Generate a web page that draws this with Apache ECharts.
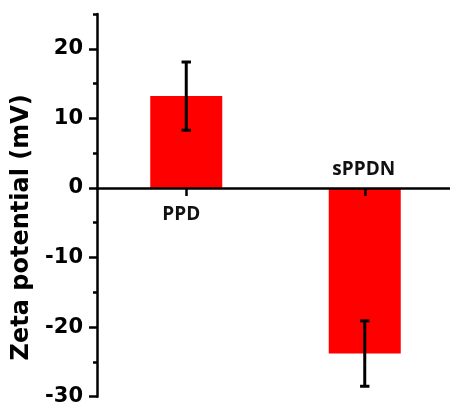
<!DOCTYPE html>
<html>
<head>
<meta charset="utf-8">
<script src="https://cdn.jsdelivr.net/npm/echarts@6/dist/echarts.min.js"></script>
<style>
  html, body { margin: 0; padding: 0; background: #fff; }
  #chart { width: 450px; height: 406px; }
</style>
</head>
<body>
<div id="chart"></div>
<script>
// Zeta potential of the two samples (mean and standard deviation, mV)
const categories = ['PPD', 'sPPDN'];
const zeta = [13.2, -23.8];
const zetaErr = [4.9, 4.7];
const yTickValues = [-30, -20, -10, 0, 10, 20];

const chart = echarts.init(document.getElementById('chart'), null, { renderer: 'canvas' });

const labelFont = {
  fontFamily: 'Open Sans',
  fontWeight: 'bold',
  fontSize: 19,
  color: '#111'
};

const barData = zeta.map((v, i) => ({
  value: v,
  label: v >= 0
    ? { position: 'bottom', distance: 17, offset: [-5, 0] }
    : { position: 'top', distance: 9, offset: [-1, 0] }
}));

const errData = zeta.map((v, i) => [i, v - zetaErr[i], v + zetaErr[i]]);

chart.setOption({
  animation: false,
  backgroundColor: '#fff',
  grid: {
    left: 97, width: 357, top: 14, bottom: 9.3,
    containLabel: false,
    outerBoundsMode: 'none'
  },
  xAxis: {
    type: 'category',
    data: categories,
    z: 10,
    axisLine: { show: true, onZero: true, lineStyle: { color: '#000', width: 2.5 } },
    axisTick: { show: true, alignWithLabel: true, interval: 0, length: 8, lineStyle: { color: '#000', width: 2.5 } },
    axisLabel: { show: false },
    splitLine: { show: false }
  },
  yAxis: [
    {
      type: 'value',
      min: -30,
      max: 25,
      interval: 10,
      position: 'left',
      name: 'Zeta potential (mV)',
      nameLocation: 'middle',
      nameGap: 60,
      nameTextStyle: {
        fontFamily: 'DejaVu Sans',
        fontWeight: 'bold',
        fontSize: 24,
        color: '#000',
        padding: [0, 44, 0, 0]
      },
      axisLine: { show: true, lineStyle: { color: '#000', width: 2.5 } },
      axisTick: {
        show: true,
        length: 8,
        customValues: yTickValues,
        lineStyle: { color: '#000', width: 2.5 }
      },
      axisLabel: {
        customValues: yTickValues,
        margin: 14,
        fontFamily: 'DejaVu Sans',
        fontWeight: 'bold',
        fontSize: 21,
        color: '#000'
      },
      splitLine: { show: false }
    },
    {
      // minor ticks every 5 mV
      type: 'value',
      min: -30,
      max: 25,
      interval: 5,
      position: 'left',
      axisLine: { show: false },
      axisTick: { show: true, length: 4, lineStyle: { color: '#000', width: 2.5 } },
      axisLabel: { show: false },
      splitLine: { show: false }
    }
  ],
  series: [
    {
      type: 'bar',
      data: barData,
      barWidth: 72,
      itemStyle: { color: '#ff0000' },
      label: Object.assign({ show: true, formatter: '{b}' }, labelFont),
      z: 2
    },
    {
      type: 'custom',
      data: errData,
      z: 5,
      renderItem: function (params, api) {
        const x = api.value(0);
        const top = api.coord([x, api.value(2)]);
        const bot = api.coord([x, api.value(1)]);
        const half = 4.7;
        const style = { stroke: '#000', lineWidth: 3 };
        return {
          type: 'group',
          children: [
            { type: 'line', shape: { x1: top[0], y1: top[1], x2: bot[0], y2: bot[1] }, style: style },
            { type: 'line', shape: { x1: top[0] - half, y1: top[1], x2: top[0] + half, y2: top[1] }, style: style },
            { type: 'line', shape: { x1: bot[0] - half, y1: bot[1], x2: bot[0] + half, y2: bot[1] }, style: style }
          ]
        };
      }
    }
  ]
});
</script>
</body>
</html>
